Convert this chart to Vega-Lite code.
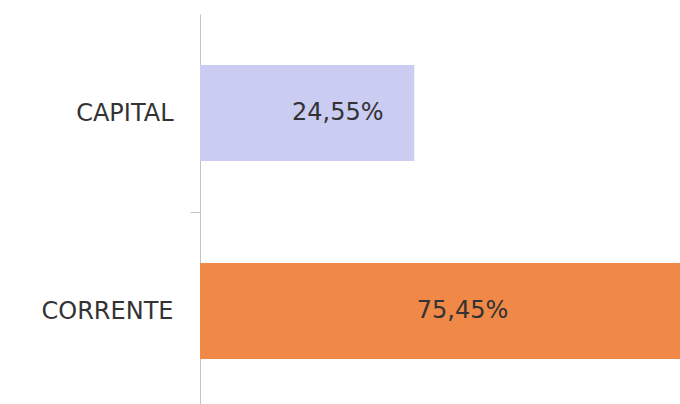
{
  "$schema": "https://vega.github.io/schema/vega-lite/v6.json",
  "autosize": "none",
  "width": 480,
  "height": 396,
  "padding": {"left": 200, "top": 14, "right": 0, "bottom": 0},
  "background": "white",
  "config": {"view": {"stroke": null}},
  "data": {
    "values": [
      {"tipo": "CAPITAL", "valor": 24.55, "rotulo": "24,55%"},
      {"tipo": "CORRENTE", "valor": 75.45, "rotulo": "75,45%"}
    ]
  },
  "encoding": {
    "y": {
      "field": "tipo",
      "type": "nominal",
      "sort": ["CAPITAL", "CORRENTE"],
      "scale": {"paddingInner": 0, "paddingOuter": 0},
      "axis": {
        "title": null,
        "tickBand": "extent",
        "tickSize": 10,
        "tickColor": "#c4c4c4",
        "tickOpacity": {"condition": {"test": "datum.value === 'CAPITAL'", "value": 1}, "value": 0},
        "domainColor": "#c4c4c4",
        "labelPadding": 17,
        "labelFont": "DejaVu Sans",
        "labelFontSize": 24,
        "labelColor": "#333333"
      }
    }
  },
  "layer": [
    {
      "mark": {"type": "bar", "clip": true, "height": {"band": 0.485}},
      "encoding": {
        "x": {
          "field": "valor",
          "type": "quantitative",
          "scale": {"domain": [0, 54.8]},
          "axis": null
        },
        "color": {
          "field": "tipo",
          "type": "nominal",
          "scale": {"domain": ["CAPITAL", "CORRENTE"], "range": ["#CACCF2", "#F08848"]},
          "legend": null
        }
      }
    },
    {
      "transform": [{"filter": "datum.tipo === 'CAPITAL'"}],
      "mark": {"type": "text", "dx": -76.5, "align": "center", "baseline": "middle", "font": "DejaVu Sans", "fontSize": 24, "color": "#333333"},
      "encoding": {
        "x": {"field": "valor", "type": "quantitative"},
        "text": {"field": "rotulo"}
      }
    },
    {
      "transform": [{"filter": "datum.tipo === 'CORRENTE'"}],
      "mark": {"type": "text", "dx": -396, "align": "center", "baseline": "middle", "font": "DejaVu Sans", "fontSize": 24, "color": "#333333"},
      "encoding": {
        "x": {"field": "valor", "type": "quantitative"},
        "text": {"field": "rotulo"}
      }
    }
  ]
}
